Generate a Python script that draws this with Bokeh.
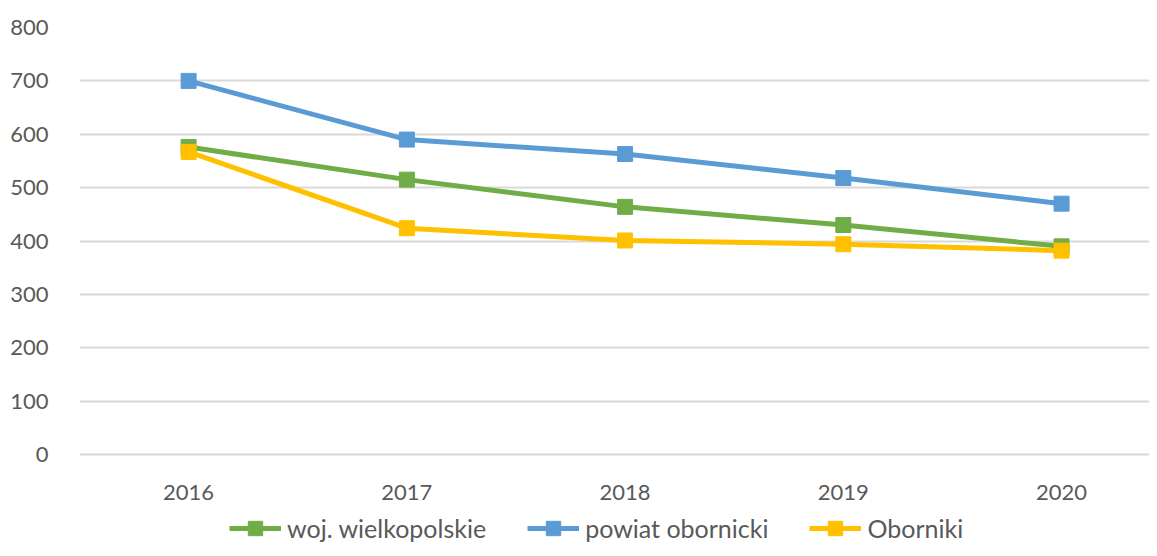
from bokeh.plotting import figure
from bokeh.models import FixedTicker, Legend, LegendItem, Range1d
from bokeh.embed import file_html
from bokeh.resources import INLINE

years = [2016, 2017, 2018, 2019, 2020]
woj_wielkopolskie = [576, 515, 464, 430, 390]
powiat_obornicki = [700, 590, 563, 518, 470]
oborniki = [567, 424, 401, 394, 382]
series_names = ["woj. wielkopolskie", "powiat obornicki", "Oborniki"]
colors = ["#70AD47", "#5B9BD5", "#FFC000"]
y_ticks = [0, 100, 200, 300, 400, 500, 600, 700, 800]

FONT = "Lato"
GREY = "#595959"

p = figure(width=1149, height=548, output_backend="svg", toolbar_location=None,
           x_range=Range1d(2015.5, 2020.403), y_range=Range1d(-176, 800),
           min_border_left=79, min_border_right=0, min_border_top=27, min_border_bottom=0)
p.outline_line_color = None
p.background_fill_color = "white"
p.border_fill_color = "white"

p.xaxis.ticker = FixedTicker(ticks=years)
p.xaxis.fixed_location = 0
p.yaxis.ticker = FixedTicker(ticks=y_ticks)
for ax in (p.xaxis, p.yaxis):
    ax.axis_line_color = None
    ax.major_tick_line_color = None
    ax.minor_tick_line_color = None
    ax.major_label_text_font = FONT
    ax.major_label_text_font_size = "22px"
    ax.major_label_text_color = GREY
p.yaxis.major_label_standoff = 25
p.xaxis.major_label_standoff = 24

p.xgrid.grid_line_color = None
p.ygrid.ticker = FixedTicker(ticks=y_ticks)
p.ygrid.grid_line_color = "#D9D9D9"
p.ygrid.grid_line_width = 2

items = []
for name, vals, col in zip(series_names, [woj_wielkopolskie, powiat_obornicki, oborniki], colors):
    l = p.line(years, vals, line_color=col, line_width=5)
    s = p.scatter(years, vals, marker="square", size=15, fill_color=col, line_color=col)
    items.append(LegendItem(label=name, renderers=[l, s]))

legend = Legend(items=items, orientation="horizontal", location=(150, 2),
                label_text_font=FONT, label_text_font_size="25px", label_text_color=GREY,
                glyph_width=52, glyph_height=36, label_standoff=6, spacing=41,
                padding=0, margin=0, border_line_color=None, background_fill_alpha=0)
p.add_layout(legend, "center")

open("out.html", "w").write(file_html(p, INLINE))
